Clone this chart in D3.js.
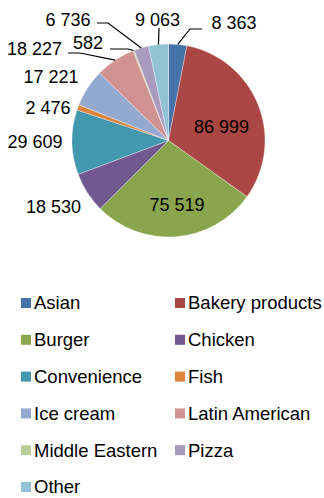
<!DOCTYPE html>
<html>
<head>
<meta charset="utf-8">
<script src="https://cdn.jsdelivr.net/npm/d3@7"></script>
<style>
  html, body { margin: 0; padding: 0; background: #fff; }
  svg { display: block; font-family: "Liberation Sans", Arial, sans-serif; }
</style>
</head>
<body>
<svg id="chart" width="324" height="498"></svg>
<script>
// Outlets by cuisine type
const categories = ["Asian", "Bakery products", "Burger", "Chicken", "Convenience", "Fish",
  "Ice cream", "Latin American", "Middle Eastern", "Pizza", "Other"];
const values = [8363, 86999, 75519, 18530, 29609, 2476, 17221, 18227, 582, 6736, 9063];
const colors = ["#4572A7", "#AA4643", "#89A54E", "#71588F", "#4198AF", "#DB843D",
  "#93A9CF", "#D09392", "#B9CD96", "#A99BBD", "#92C3D4"];

// Label placement (centre of each value label, relative to the pie centre),
// plus leader-line bends relative to the label centre where one is drawn.
const labelLayout = {
  "Asian":          { at: [65.5, -117.5], leader: [[-44, 6], [-32, 6]] },
  "Bakery products":{ at: [53, -13.5] },
  "Burger":         { at: [8.5, 64.5] },
  "Chicken":        { at: [-115, 66.5] },
  "Convenience":    { at: [-133.5, 1.5] },
  "Fish":           { at: [-120.5, -32.5] },
  "Ice cream":      { at: [-117.5, -64] },
  "Latin American": { at: [-134, -91.5], leader: [[45.5, 4], [33.5, 4]] },
  "Middle Eastern": { at: [-80.5, -97.5], leader: [[40, 6], [22, 6]] },
  "Pizza":          { at: [-100.5, -121], leader: [[40, 3.5], [29, 3.5]] },
  "Other":          { at: [-11, -121], leader: [[1.5, 8.5]] }
};

const svg = d3.select("#chart");
const cx = 168.5, cy = 140.5, radius = 96.5;
const fmt = v => d3.format(",")(v).replace(/,/g, " ");

const pie = d3.pie().sort(null).value(d => d.value);
const arcs = pie(categories.map((c, i) => ({ name: c, value: values[i], color: colors[i] })));
const arc = d3.arc().innerRadius(0).outerRadius(radius);
const rim = d3.arc().innerRadius(radius).outerRadius(radius);

const g = svg.append("g").attr("transform", `translate(${cx},${cy})`);

g.selectAll("path.slice")
  .data(arcs)
  .join("path")
  .attr("class", "slice")
  .attr("d", arc)
  .attr("fill", d => d.data.color)
  .attr("stroke", "rgba(255,255,255,0.55)")
  .attr("stroke-width", 0.6);

// leader lines
const line = d3.line();
arcs.forEach(d => {
  const lay = labelLayout[d.data.name];
  if (!lay.leader) return;
  const start = rim.centroid(d);
  const pts = [start].concat(lay.leader.map(p => [lay.at[0] + p[0], lay.at[1] + p[1]]));
  g.append("path")
    .attr("d", line(pts))
    .attr("fill", "none")
    .attr("stroke", "#000")
    .attr("stroke-width", 1.2);
});

g.selectAll("text.val")
  .data(arcs)
  .join("text")
  .attr("class", "val")
  .attr("x", d => labelLayout[d.data.name].at[0])
  .attr("y", d => labelLayout[d.data.name].at[1])
  .attr("dy", "0.35em")
  .attr("text-anchor", "middle")
  .attr("font-size", 18)
  .attr("fill", "#000")
  .text(d => fmt(d.data.value));

// legend: two columns
const rowY = d3.scaleLinear().domain([0, 5]).range([303, 487]);
const colX = [21, 175];
const leg = svg.append("g").selectAll("g")
  .data(categories)
  .join("g")
  .attr("transform", (d, i) => `translate(${colX[i % 2]},${rowY(Math.floor(i / 2))})`);
leg.append("rect")
  .attr("x", 0).attr("y", -5)
  .attr("width", 10).attr("height", 10)
  .attr("fill", (d, i) => colors[i]);
leg.append("text")
  .attr("x", 13)
  .attr("dy", "0.35em")
  .attr("font-size", 18.5)
  .attr("fill", "#000")
  .text(d => d);
</script>
</body>
</html>
